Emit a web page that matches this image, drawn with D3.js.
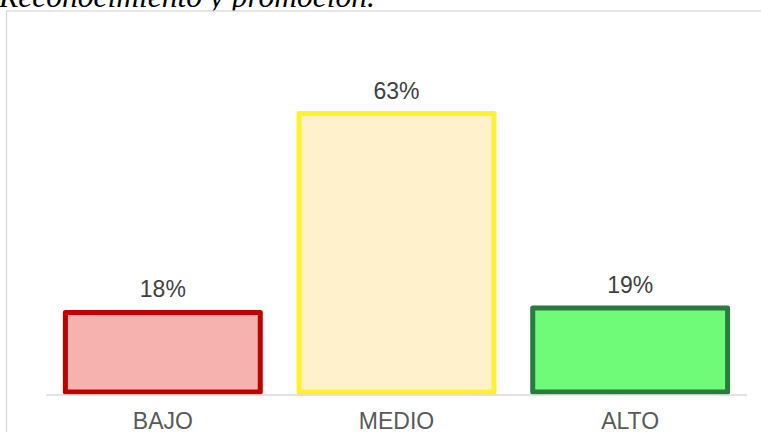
<!DOCTYPE html>
<html>
<head>
<meta charset="utf-8">
<script src="https://cdn.jsdelivr.net/npm/d3@7"></script>
<style>
  html, body { margin: 0; padding: 0; background: #ffffff; }
  svg { display: block; }
</style>
</head>
<body>
<svg id="chart" width="761" height="432"></svg>
<script>
// Nivel de reconocimiento y promoción
const categories = ["BAJO", "MEDIO", "ALTO"];
const values = [0.18, 0.63, 0.19];
const valueLabels = ["18%", "63%", "19%"];
const fills = ["#f5b2ae", "#fef1cb", "#6ffb78"];
const strokes = ["#c00000", "#fff22a", "#2a7b3e"];
const titleText = "Reconocimiento y promoción.";

const svg = d3.select("#chart");
const W = 761, H = 432;

// Title (partially above the page edge)
svg.append("text")
  .attr("x", -1)
  .attr("y", 7)
  .attr("font-family", "'Liberation Serif', 'Times New Roman', serif")
  .attr("font-style", "italic")
  .attr("font-size", 31.5)
  .attr("fill", "#000")
  .text(titleText);

// Chart area frame
svg.append("rect")
  .attr("x", 6.5)
  .attr("y", 11)
  .attr("width", W + 20)
  .attr("height", H + 20)
  .attr("fill", "#fff")
  .attr("stroke", "#d9d9d9")
  .attr("stroke-width", 1.3);

const plot = { left: 46, right: 747, base: 392 };

const x = d3.scaleBand()
  .domain(categories)
  .range([plot.left, plot.right])
  .paddingInner(0.166)
  .paddingOuter(0.083);

const y = d3.scaleLinear()
  .domain([0, 0.7])
  .range([plot.base, plot.base - 0.7 * 442]);

const data = categories.map((c, i) => ({
  cat: c, v: values[i], label: valueLabels[i], fill: fills[i], stroke: strokes[i]
}));

// Bars
svg.append("g").selectAll("rect")
  .data(data)
  .join("rect")
  .attr("x", d => x(d.cat))
  .attr("y", d => y(d.v))
  .attr("width", x.bandwidth())
  .attr("height", d => y(0) - y(d.v))
  .attr("fill", d => d.fill)
  .attr("stroke", d => d.stroke)
  .attr("stroke-width", 5)
  .attr("stroke-linejoin", "round");

// Category axis
const axis = svg.append("g")
  .attr("transform", `translate(0,${plot.base + 3})`)
  .call(d3.axisBottom(x).tickSize(0).tickPadding(0));
axis.select(".domain")
  .attr("d", `M${plot.left},0H${plot.right}`)
  .attr("stroke", "#d9d9d9")
  .attr("stroke-width", 1.5);
axis.selectAll(".tick text")
  .attr("dy", null)
  .attr("y", 34)
  .attr("font-family", "'Liberation Sans', Arial, sans-serif")
  .attr("font-size", 23)
  .attr("fill", "#595959");

// Value labels
svg.append("g").selectAll("text")
  .data(data)
  .join("text")
  .attr("x", d => x(d.cat) + x.bandwidth() / 2)
  .attr("y", d => y(d.v) - 15)
  .attr("text-anchor", "middle")
  .attr("font-family", "'Liberation Sans', Arial, sans-serif")
  .attr("font-size", 23)
  .attr("fill", "#404040")
  .text(d => d.label);
</script>
</body>
</html>
